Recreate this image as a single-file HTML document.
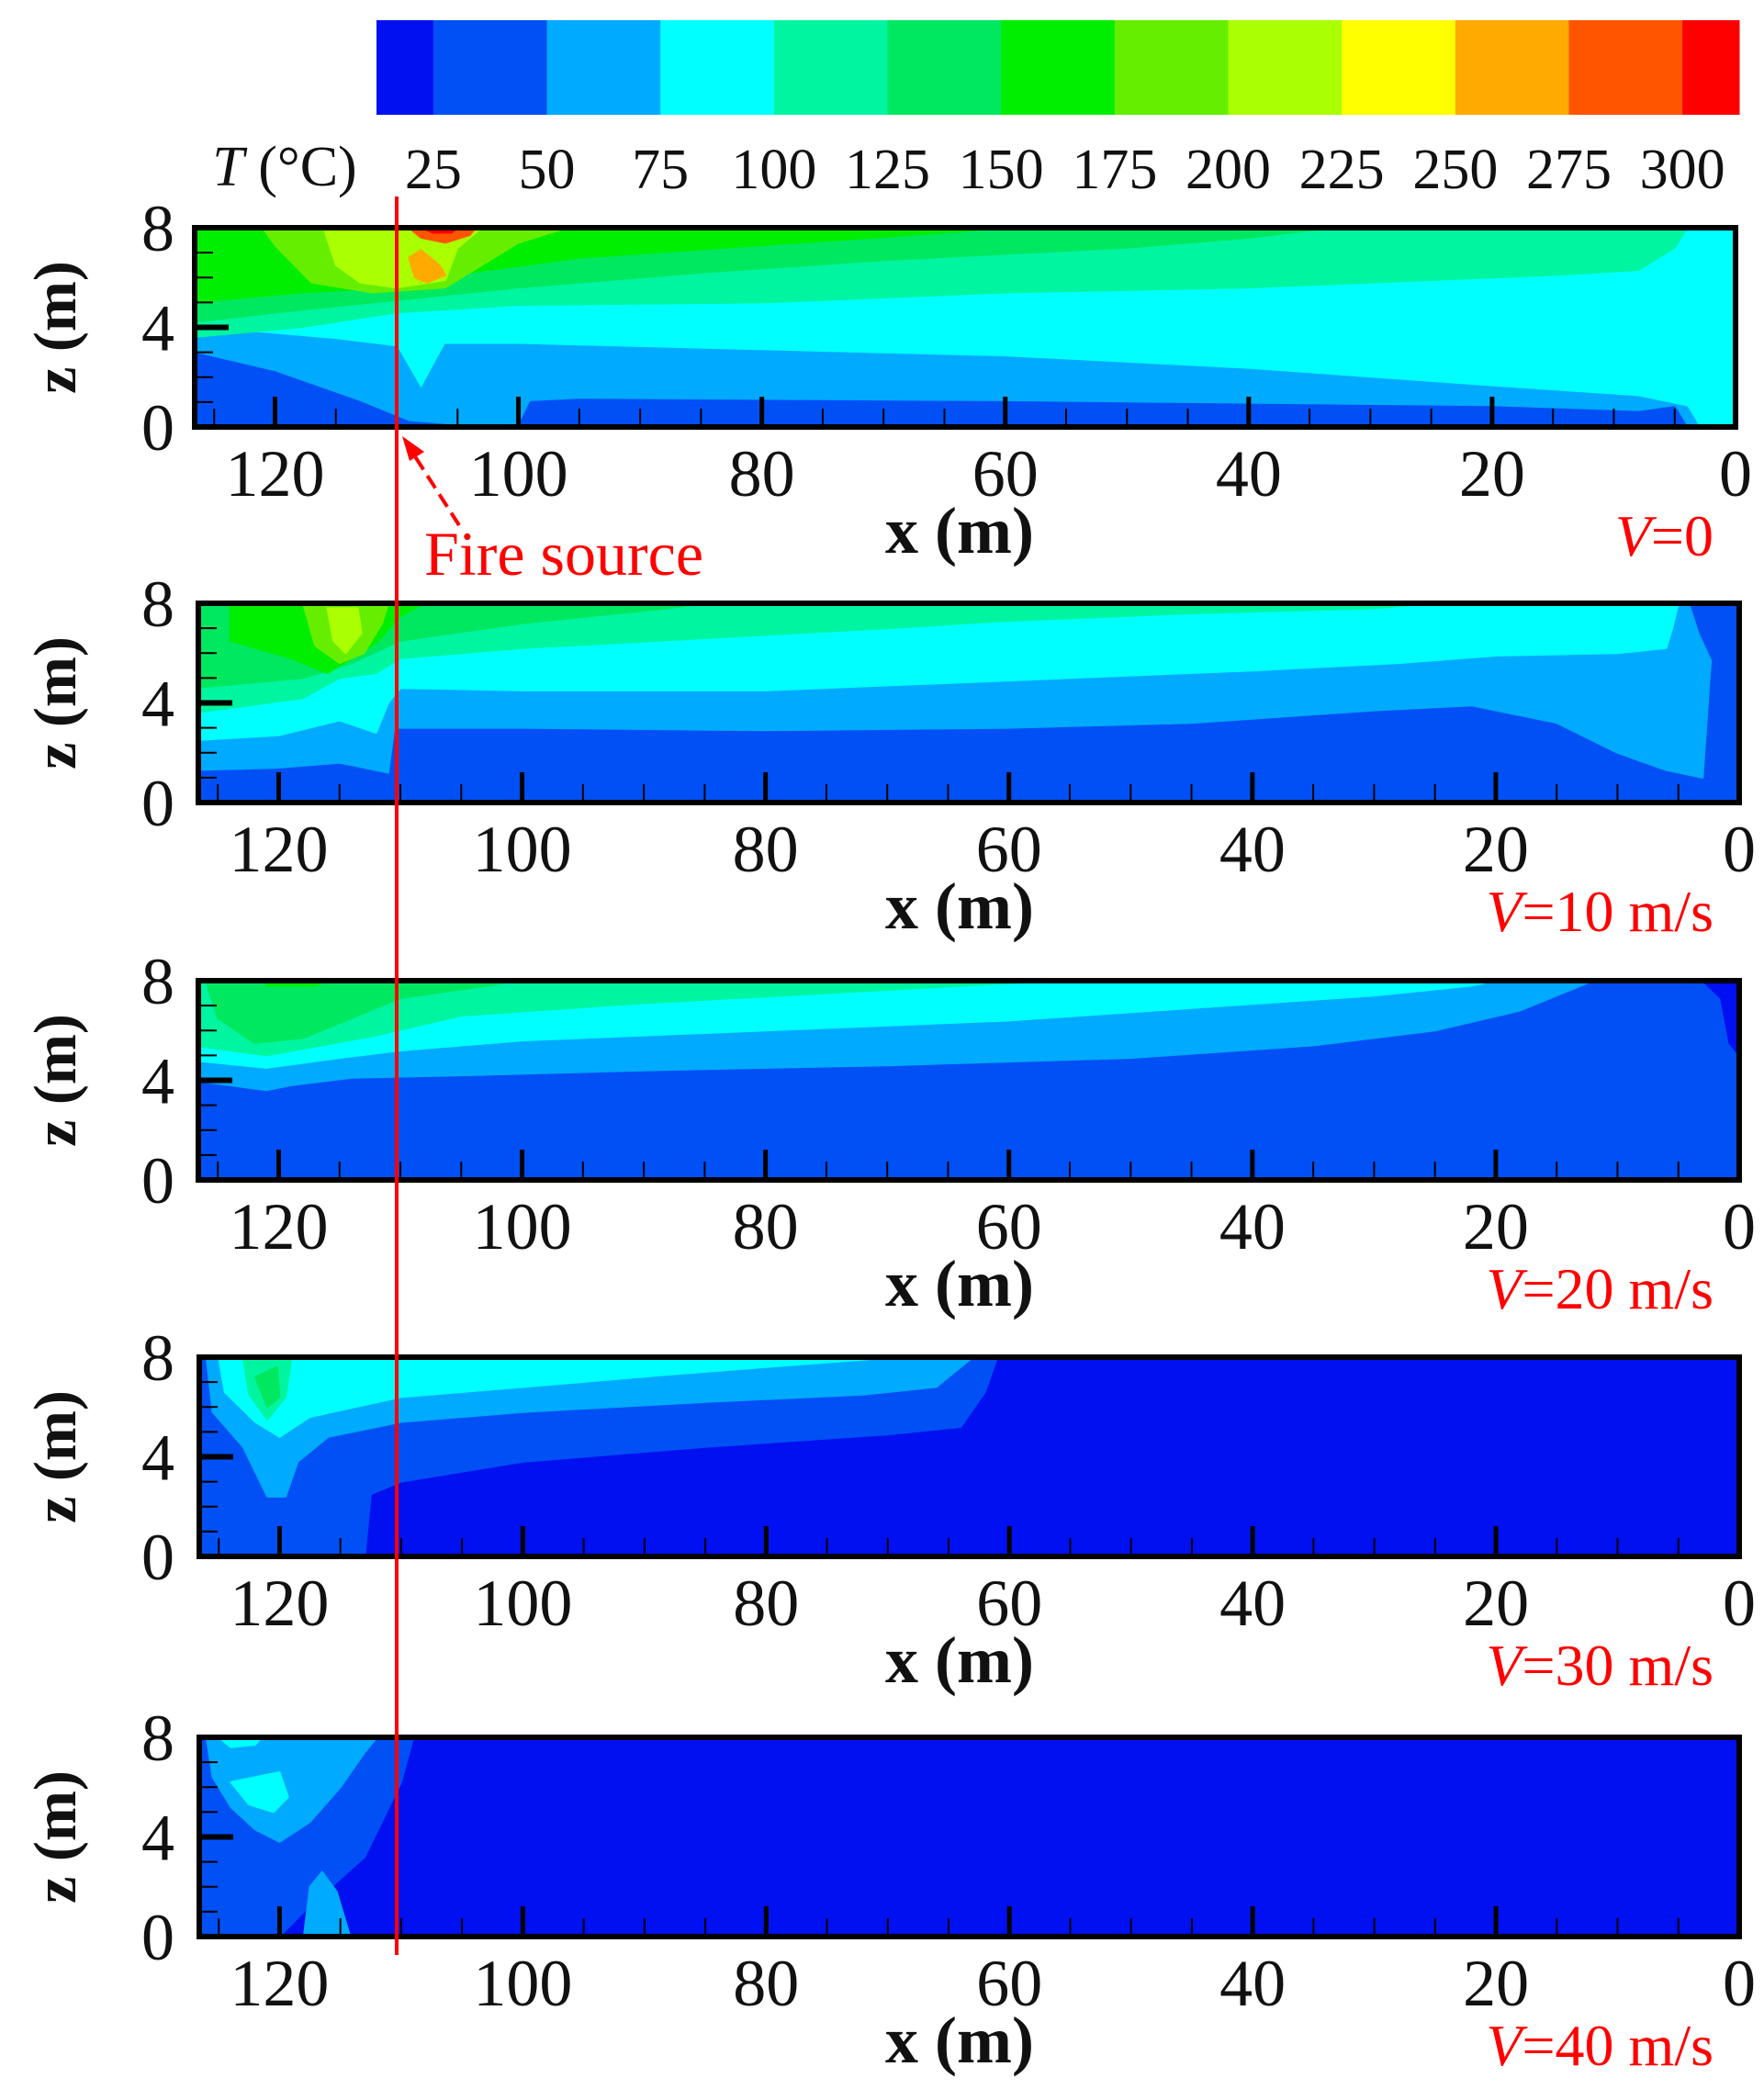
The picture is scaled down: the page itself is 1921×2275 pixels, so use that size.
<!DOCTYPE html>
<html><head><meta charset="utf-8"><style>
html,body{margin:0;padding:0;background:#fff;}
svg{display:block;}
text{font-family:"Liberation Serif",serif;}
</style></head><body>
<svg id="fig" width="1921" height="2275" viewBox="0 0 1921 2275" xmlns="http://www.w3.org/2000/svg"></svg>
<script>
// ---- colorbar data ----
const levelLabels = ["25","50","75","100","125","150","175","200","225","250","275","300"];
const levelColors = ["#0010f0","#0050f5","#00aaff","#00ffff","#00f5a0","#00e860","#00ee00","#66ee00","#aaff00","#ffff00","#ffaa00","#ff5500","#ff0000"];
// ---- panel data ----
const velocityLabels = ["V=0","V=10 m/s","V=20 m/s","V=30 m/s","V=40 m/s"];
const xTicks = [120,100,80,60,40,20,0];
const zTicks = [8,4,0];
const fireX = 110;
const xMax = 126.6;
const baseLevels = [3,1,1,0,0];
// each band: [colorIndex, [[x,z],...]]
const bands0 = [
 [2,[[127,0],[127,4],[115,3.5],[110,3.2],[108,1.5],[106,3.3],[100,3.3],[60,2.8],[40,2.3],[20,1.6],[8,1.2],[4,0.8],[3,0]]],
 [1,[[127,0],[127,3],[120,2.2],[113,1.0],[109,0.2],[104,0],[100,0],[99,1],[95,1.1],[60,1.0],[40,0.9],[20,0.8],[8,0.6],[5,0.8],[4,0]]],
 [4,[[127,8],[127,3.6],[118,4.0],[110,4.6],[100,4.9],[80,5.0],[60,5.4],[40,5.6],[25,5.9],[15,6.1],[8,6.3],[5,7.2],[4,8]]],
 [5,[[127,8],[127,4.2],[118,4.7],[110,5.1],[100,5.6],[85,6.2],[70,6.7],[50,7.2],[40,7.6],[33,8]]],
 [6,[[127,8],[127,5.0],[118,5.4],[110,5.6],[104,6.2],[95,6.8],[80,7.3],[65,7.8],[60,8]]],
 [7,[[121,8],[120,7.3],[117,5.8],[112,5.4],[106,5.6],[103,6.5],[100,7.4],[96,8]]],
 [8,[[116,8],[115,6.5],[113,5.8],[110,5.6],[106,5.9],[105,7.2],[103,8]]],
 [10,[[109,6.8],[108.5,6.0],[107.5,5.8],[106,6.1],[106.5,6.5],[108,7.1]]],
 [11,[[109,8],[108,7.6],[106,7.4],[104,7.7],[103.5,8]]],
 [12,[[108,8],[107,7.8],[105.5,7.8],[105,8]]]
];
const bands1 = [
 [2,[[127,1.3],[120,1.4],[115,1.6],[111,1.2],[110.5,3.0],[100,3.0],[80,2.9],[60,3.0],[45,3.2],[30,3.7],[22,3.9],[15,3.2],[10,2.0],[6,1.3],[3,1.0],[2,8],[127,8]]],
 [3,[[127,2.5],[120,2.7],[115,3.3],[112,2.8],[111,4.0],[110,4.6],[100,4.5],[80,4.5],[60,4.9],[40,5.3],[28,5.6],[20,5.9],[10,6.0],[6,6.2],[5.5,7.0],[5,8],[127,8]]],
 [4,[[127,3.6],[118,4.2],[115,5],[112,5.2],[110,5.8],[100,6.2],[85,6.6],[70,7.0],[60,7.3],[45,7.6],[30,7.8],[25,8],[127,8]]],
 [5,[[127,4.6],[118,5.0],[114,5.6],[110,6.5],[100,7.2],[88,7.8],[85,8],[127,8]]],
 [6,[[124,8],[124,6.5],[119,5.8],[116,5.2],[112,6.4],[110,7.5],[108,8]]],
 [7,[[118,8],[117,6.3],[115,5.6],[113,6.0],[111.5,7.2],[111,8]]],
 [8,[[116,7.8],[115.5,6.5],[114.5,6.0],[113.2,6.8],[113.5,7.8]]],
 [1,[[4,8],[3.2,6.8],[1.5,5],[0,4],[0,8]]]
];
const bands2 = [
 [2,[[127,4.0],[121,3.6],[119,3.8],[114,4.1],[105,4.2],[90,4.4],[70,4.6],[50,4.9],[35,5.4],[25,6.0],[18,6.8],[14,7.6],[12,8],[127,8]]],
 [3,[[127,4.8],[121,4.5],[115,4.9],[110,5.2],[100,5.6],[80,6.0],[60,6.4],[45,6.9],[30,7.4],[22,7.8],[20,8],[127,8]]],
 [4,[[127,5.4],[121,5.0],[112,5.8],[105,6.6],[90,7.1],[75,7.5],[60,7.9],[55,8],[127,8]]],
 [5,[[126,8],[125,6.5],[122,5.5],[118,5.7],[114,6.5],[110,7.3],[100,8]]],
 [6,[[121,8],[121,7.8],[117,7.8],[116,8]]],
 [0,[[3,8],[1.5,7.3],[0.8,5.5],[0,5],[0,8]]]
];
const bands3 = [
 [1,[[127,0],[127,8],[61,8],[62,6.6],[64,5.2],[70,4.9],[85,4.4],[100,3.8],[110,3.0],[112.5,2.5],[113,0]]],
 [2,[[126,8],[125.5,5.8],[123,4.4],[121,2.4],[119.5,2.4],[118.5,3.8],[116,4.8],[110,5.4],[100,5.8],[85,6.2],[72,6.5],[66,6.8],[63,8]]],
 [3,[[125,8],[124.5,6.6],[122,5.4],[120,4.8],[117.5,5.6],[110,6.4],[100,6.8],[88,7.3],[80,7.6],[72,7.9],[70,8]]],
 [4,[[123,8],[122.5,6.5],[121,5.5],[119.5,6.4],[119,8]]],
 [5,[[122,7.2],[121,6.0],[120,6.4],[120.2,7.6]]]
];
const bands4 = [
 [1,[[127,0],[127,8],[109,8],[110,6.2],[113,3.2],[118,1.0],[120,0]]],
 [2,[[126,8],[125.5,6.4],[124,5.2],[122,4.3],[120,3.8],[117.5,4.6],[115,6.0],[113,7.4],[112,8]]],
 [2,[[118,0],[117.5,2.0],[116.5,2.6],[115.3,1.8],[114.2,0]]],
 [3,[[124,6.2],[122.5,5.3],[120.5,5.0],[119.3,5.6],[120,6.6],[122,6.4]]],
 [3,[[125,8],[124,7.6],[122,7.7],[121.5,8]]]
];
const allBands = [bands0,bands1,bands2,bands3,bands4];

const NS="http://www.w3.org/2000/svg";
const svg=document.getElementById('fig');
function mk(tag,attrs,parent){const e=document.createElementNS(NS,tag);for(const k in attrs)e.setAttribute(k,attrs[k]);(parent||svg).appendChild(e);return e;}

// colorbar
const cbL=410,cbR=1894,cbT=22,cbB=125;
const unit=(cbR-cbL)/12;
const cbg=mk('g',{});


levelColors.forEach((c,i)=>{
  const x0=i===0?cbL:cbL+unit*(i-0.5);
  const x1=i===levelColors.length-1?cbR:cbL+unit*(i+0.5);
  const r=mk('rect',{x:x0,y:cbT,width:x1-x0+0.5,height:cbB-cbT,fill:c},cbg);
  
  
});
levelLabels.forEach((t,i)=>{
  const tx=mk('text',{x:cbL+unit*(i+0.5),y:205,'font-size':62,'text-anchor':'middle',fill:'#111'},cbg);
  tx.textContent=t;
  
  
});
const tt=mk('text',{x:310,y:202,'font-size':62,'text-anchor':'middle',fill:'#111'},cbg);
tt.innerHTML='<tspan font-style="italic">T</tspan> (°C)';



// panels
const tops=[248,657,1068,1478,1892];
const lefts=[212,216,216,217,217];
const rights=[1890,1894,1894,1894,1894];
const ph=217;
allBands.forEach((bands,p)=>{
  const L=lefts[p],R=rights[p],T=tops[p],B=T+ph;
  const X=x=>R-(x/xMax)*(R-L);
  const Z=z=>B-(z/8)*(B-T);
  const g=mk('g',{});
  
  
  const cp=mk('clipPath',{id:'cp'+p},g);
  mk('rect',{x:L,y:T,width:R-L,height:B-T},cp);
  const cg=mk('g',{'clip-path':'url(#cp'+p+')'},g);
  const bg=mk('rect',{x:L,y:T,width:R-L,height:B-T,fill:levelColors[baseLevels[p]]},cg);
  
  
  bands.forEach(b=>{
    const pts=b[1].map(q=>X(q[0]).toFixed(1)+','+Z(q[1]).toFixed(1)).join(' ');
    const pg=mk('polygon',{points:pts,fill:levelColors[b[0]],stroke:levelColors[b[0]],'stroke-width':2,'stroke-linejoin':'round'},cg);
    
    
  });
  for(let x=0;x<=125;x+=5){
    const major=x%20===0;
    const tk=mk('line',{x1:X(x),x2:X(x),y1:B,y2:B-(major?33:20),stroke:'#000','stroke-width':major?5:2},g);
    
    
  }
  for(let z=1;z<8;z++){
    const major=z===4;
    const tk=mk('line',{x1:L,x2:L+(major?37:20),y1:Z(z),y2:Z(z),stroke:'#000','stroke-width':major?6:2},g);
    
    
  }
  const fr=mk('rect',{x:L,y:T,width:R-L,height:B-T,fill:'none',stroke:'#000','stroke-width':6},g);
  
  
  xTicks.forEach(v=>{
    const t=mk('text',{x:X(v),y:B+75,'font-size':72,'text-anchor':'middle',fill:'#111'},g);
    t.textContent=v;
    
    
  });
  zTicks.forEach(v=>{
    const t=mk('text',{x:172,y:Z(v)+25,'font-size':72,'text-anchor':'middle',fill:'#111'},g);
    t.textContent=v;
    
    
  });
  const xl=mk('text',{x:1045,y:B+137,'font-size':72,'font-weight':'bold','text-anchor':'middle',fill:'#111'},g);
  xl.textContent='x (m)';
  
  
  const zl=mk('text',{x:0,y:0,'font-size':66,'font-weight':'bold','text-anchor':'middle',fill:'#111',transform:`translate(82,${(T+B)/2}) rotate(-90)`},g);
  zl.textContent='z (m)';
  
  
  const lab=velocityLabels[p];
  const vl=mk('text',{x:1866,y:B+140,'font-size':64,'text-anchor':'end',fill:'#ff0000'},g);
  vl.innerHTML='<tspan font-style="italic">V</tspan>'+lab.slice(1);
  
  
});

const X0=x=>rights[0]-(x/xMax)*(rights[0]-lefts[0]);
const fl=mk('line',{x1:X0(fireX),x2:X0(fireX),y1:214,y2:2129,stroke:'#ff0000','stroke-width':4});


const arr=mk('line',{x1:500,y1:572,x2:450,y2:494,stroke:'#ff0000','stroke-width':4,'stroke-dasharray':'16,8'});


const ah=mk('polygon',{points:'438,475 462,492 446,502',fill:'#ff0000'});


const ft=mk('text',{x:462,y:626,'font-size':68,fill:'#ff0000'});
ft.textContent='Fire source';


</script>
</body></html>
